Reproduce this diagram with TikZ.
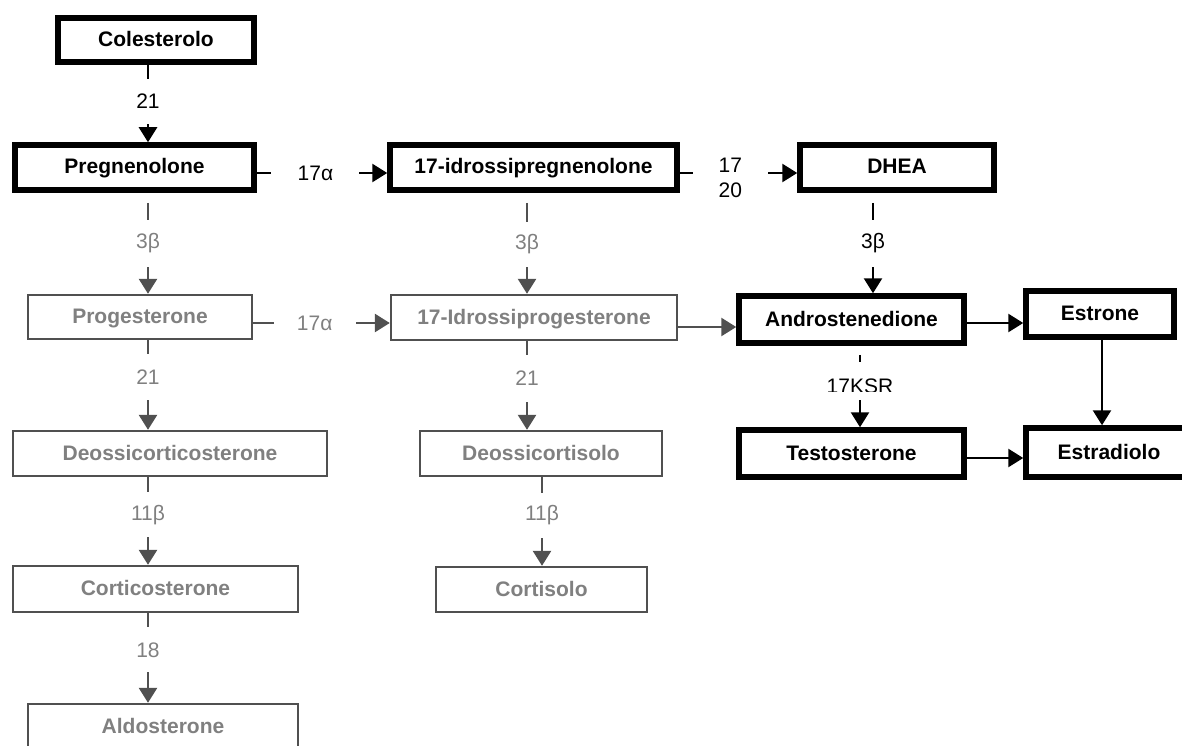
\documentclass[tikz,border=0pt]{standalone}
\usepackage{fontspec}
\setmainfont{Liberation Sans}
\usetikzlibrary{arrows.meta}
\definecolor{dkgray}{HTML}{505050}
\definecolor{ltgray}{HTML}{808080}
\begin{document}
\begin{tikzpicture}[x=1pt,y=-1pt,
  every node/.style={font=\fontsize{21}{25}\selectfont, inner sep=0pt},
  bbox/.style={draw=black, line width=5.5pt, fill=white, text height=15pt, text depth=2pt, font=\fontsize{21}{25}\selectfont\bfseries},
  gbox/.style={draw=dkgray, line width=2.4pt, fill=white, text=ltgray, text height=15pt, text depth=2pt, font=\fontsize{21}{25}\selectfont\bfseries},
  arrb/.style={line width=2.6pt, draw=black, -{Triangle[length=15pt,width=18pt]}},
  arrg/.style={line width=2.6pt, draw=dkgray, -{Triangle[length=15pt,width=18pt]}},
  lbl/.style={fill=white, text=black},
  glbl/.style={fill=white, text=ltgray},
]
\path[use as bounding box, clip] (0,0) rectangle (1182,746);
\fill[white] (0,0) rectangle (1182,746);

% columns / rows
\coordinate (cL) at (148,0);
\coordinate (cM) at (527,0);
\coordinate (cMb) at (542,0);
\coordinate (cD) at (873,0);
\coordinate (cA) at (860,0);
\coordinate (cE) at (1102,0);
\coordinate (r1) at (0,173);
\coordinate (r2) at (0,323);
\coordinate (r3) at (0,327);
\coordinate (r4) at (0,458);

% black boxes
\node[bbox, minimum width=196pt, minimum height=44pt] (colest) at (156,40) {Colesterolo};
\node[bbox, minimum width=239pt, minimum height=45pt] (preg) at (134.5,167.5) {Pregnenolone};
\node[bbox, minimum width=287pt, minimum height=45pt] (idpreg) at (533.5,167.5) {17-idrossipregnenolone};
\node[bbox, minimum width=194pt, minimum height=45pt] (dhea) at (897,167.5) {DHEA};
\node[bbox, minimum width=225pt, minimum height=47pt] (andro) at (851.5,319.5) {Androstenedione};
\node[bbox, minimum width=148pt, minimum height=46pt] (estrone) at (1100,314) {Estrone};
\node[bbox, minimum width=225pt, minimum height=47pt] (testo) at (851.5,453.5) {Testosterone};
\node[bbox, minimum width=166pt, minimum height=49pt] (estradiolo) at (1109,452.5) {Estradiolo};

% gray boxes
\node[gbox, minimum width=224pt, minimum height=44pt] (proges) at (140,317) {Progesterone};
\node[gbox, minimum width=286pt, minimum height=45pt] (idprog) at (534,317.5) {17-Idrossiprogesterone};
\node[gbox, minimum width=314pt, minimum height=45pt] (deoxcs) at (170,453.5) {Deossicorticosterone};
\node[gbox, minimum width=242pt, minimum height=45pt] (deoxcl) at (541,453.5) {Deossicortisolo};
\node[gbox, minimum width=285pt, minimum height=46pt] (cortico) at (155.5,589) {Corticosterone};
\node[gbox, minimum width=211pt, minimum height=45pt] (cortisolo) at (541.5,589.5) {Cortisolo};
\node[gbox, minimum width=270pt, minimum height=46pt] (aldo) at (163,727) {Aldosterone};

% vertical connectors, left column
\draw[arrb] (colest.south -| cL) -- node[lbl, pos=.47, minimum height=45pt] (l1) {21} (preg.north -| cL);
\draw[arrg, shorten <=10pt] (preg.south -| cL) -- node[glbl, pos=.5, minimum height=47pt] (l2) {3β} (proges.north -| cL);
\draw[arrg] (proges.south -| cL) -- node[glbl, pos=.41, minimum height=46pt] (l3) {21} (deoxcs.north -| cL);
\draw[arrg] (deoxcs.south -| cL) -- node[glbl, pos=.43, minimum height=45pt] (l4) {11β} (cortico.north -| cL);
\draw[arrg] (cortico.south -| cL) -- node[glbl, pos=.41, minimum height=45pt] (l5) {18} (aldo.north -| cL);

% middle column
\draw[arrg, shorten <=10pt] (idpreg.south -| cM) -- node[glbl, pos=.51, minimum height=45pt] (l6) {3β} (idprog.north -| cM);
\draw[arrg] (idprog.south -| cM) -- node[glbl, pos=.42, minimum height=47pt] (l7) {21} (deoxcl.north -| cM);
\draw[arrg] (deoxcl.south -| cMb) -- node[glbl, pos=.43, minimum height=45pt] (l8) {11β} (cortisolo.north -| cMb);

% right side
\draw[arrb, shorten <=10pt] (dhea.south -| cD) -- node[lbl, pos=.5, minimum height=47pt] (l9) {3β} (andro.north -| cD);
\draw[arrb, shorten <=9pt] (andro.south -| cA) -- node[fill=white, pos=.43, minimum height=38pt, minimum width=12pt] (ksr) {} (testo.north -| cA);
\begin{scope}
  \clip (800,370) rectangle (920,391.5);
  \node[anchor=base] (ksrtext) at (860,393) {17KSR};
\end{scope}
\draw[arrb] (estrone.south -| cE) -- (estradiolo.north -| cE);

% horizontal connectors
\draw[arrb] (preg.east |- r1) -- node[lbl, pos=.45, minimum width=88pt] (h1) {17α} (idpreg.west |- r1);
\draw[arrb] (idpreg.east |- r1) -- node[lbl, pos=.43, minimum width=75pt, align=center, yshift=-5pt] (h2) {17\\20} (dhea.west |- r1);
\draw[arrg] (proges.east |- r2) -- node[glbl, pos=.45, minimum width=82pt] (h3) {17α} (idprog.west |- r2);
\draw[arrg] (idprog.east |- r3) -- (andro.west |- r3);
\draw[arrb] (andro.east |- r2) -- (estrone.west |- r2);
\draw[arrb] (testo.east |- r4) -- (estradiolo.west |- r4);
\end{tikzpicture}
\end{document}
